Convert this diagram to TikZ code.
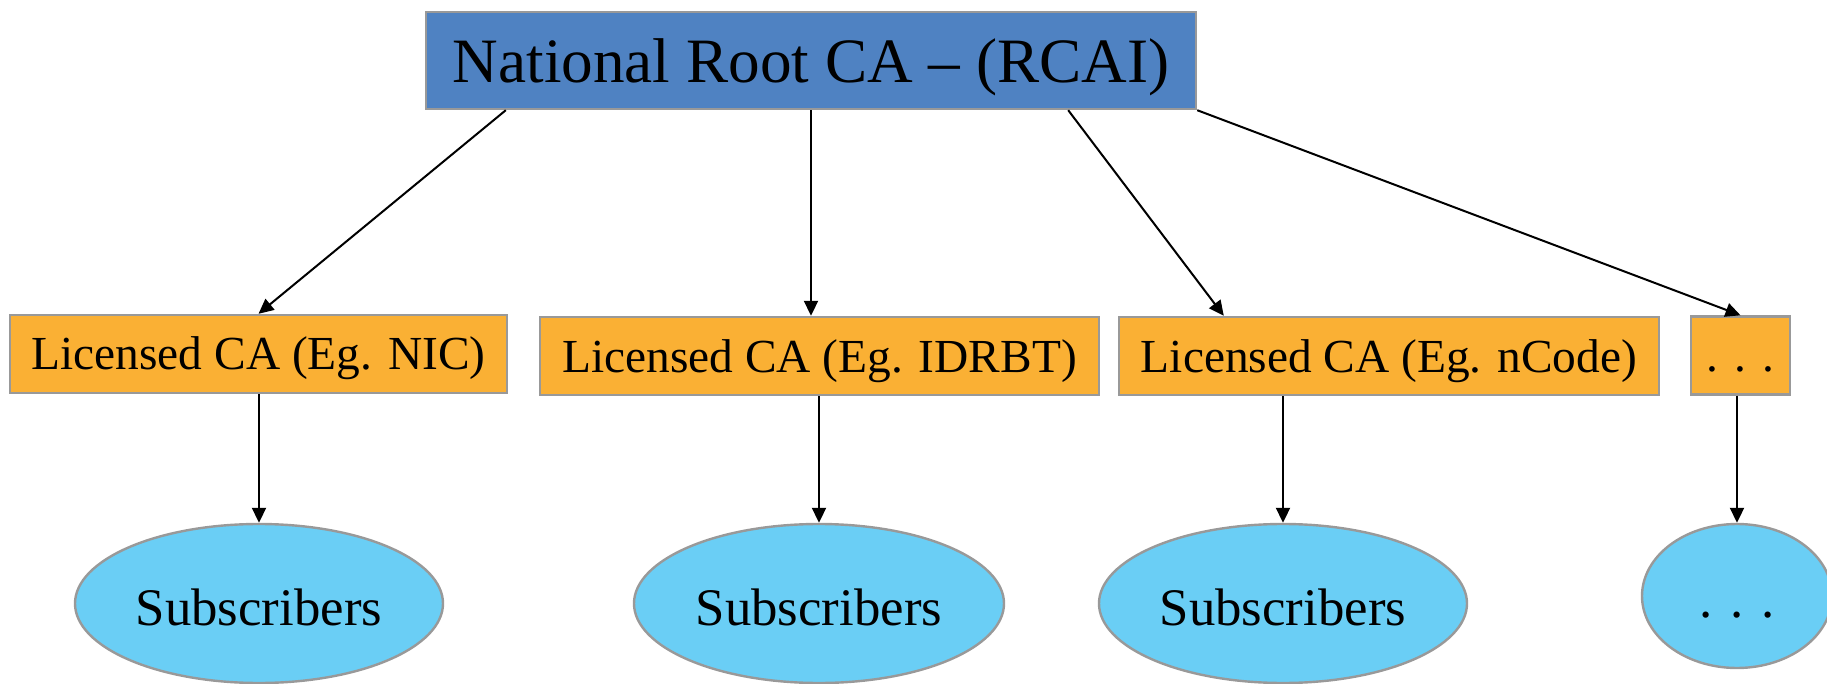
\documentclass[tikz,border=0pt]{standalone}
\usepackage{fontspec}
\setmainfont{Liberation Serif}
\usetikzlibrary{shapes.geometric}
\usetikzlibrary{arrows.meta}
\definecolor{rootblue}{RGB}{79,130,194}
\definecolor{caorange}{RGB}{250,176,52}
\definecolor{subblue}{RGB}{106,206,245}
\definecolor{linegray}{RGB}{153,153,153}
\tikzset{
  rootca/.style= {draw=linegray, line width=1.2pt, fill=rootblue, inner sep=0,
    minimum width=385pt, minimum height=48.5pt, text height=27pt, text depth=4.5pt,
    font=\fontsize{31.6}{36}\selectfont},
  ca/.style= {draw=linegray, line width=1.2pt, fill=caorange, inner sep=0,
    minimum height=39pt, text height=19pt, text depth=3pt,
    font=\fontsize{23.7}{28}\selectfont},
  subs/.style= {draw=linegray, line width=1.2pt, ellipse, fill=subblue, inner sep=0,
    minimum height=79.5pt, text height=24pt, text depth=2.5pt,
    font=\fontsize{26.4}{30}\selectfont},
  link/.style= {-{Triangle[length=7.5pt,width=7pt]}, line width=1pt},
}

\begin{document}
\begin{tikzpicture}[x=0.5pt, y=-0.5pt]
  \useasboundingbox (0,0) rectangle (1827,684);

  \node [rootca] (root) at (811,60.5) {National Root CA -- (RCAI)} ;

  \node [ca, minimum width=248.5pt] (nic) at (258.5,354) {Licensed CA (Eg. NIC)} ;
  \node [ca, minimum width=279.5pt] (idrbt) at (819.5,356) {Licensed CA (Eg. IDRBT)} ;
  \node [ca, minimum width=270pt] (ncode) at (1389,356) {Licensed CA (Eg. nCode)} ;
  \node [ca, minimum width=49.5pt] (more) at (1740.5,355.5) {. . .} ;

  \node [subs, minimum width=184pt] (s1) at (259,603.5) {Subscribers} ;
  \node [subs, minimum width=185pt] (s2) at (819,603.5) {Subscribers} ;
  \node [subs, minimum width=184pt] (s3) at (1283,603.5) {Subscribers} ;
  \node [subs, minimum width=95pt, minimum height=72pt] (s4) at (1737,596) {. . .} ;

  \draw [link] ([xshift=40.5pt]root.south west) -- (nic.north) ;
  \draw [link] (root.south) -- (root.south |- idrbt.north) ;
  \draw [link] ([xshift=-64.5pt]root.south east) -- ([xshift=53pt]ncode.north west) ;
  \draw [link] (root.south east) -- (more.north) ;

  \draw [link] (s1.north |- nic.south) -- (s1.north) ;
  \draw [link] (s2.north |- idrbt.south) -- (s2.north) ;
  \draw [link] (s3.north |- ncode.south) -- (s3.north) ;
  \draw [link] (s4.north |- more.south) -- (s4.north) ;
\end{tikzpicture}
\end{document}
